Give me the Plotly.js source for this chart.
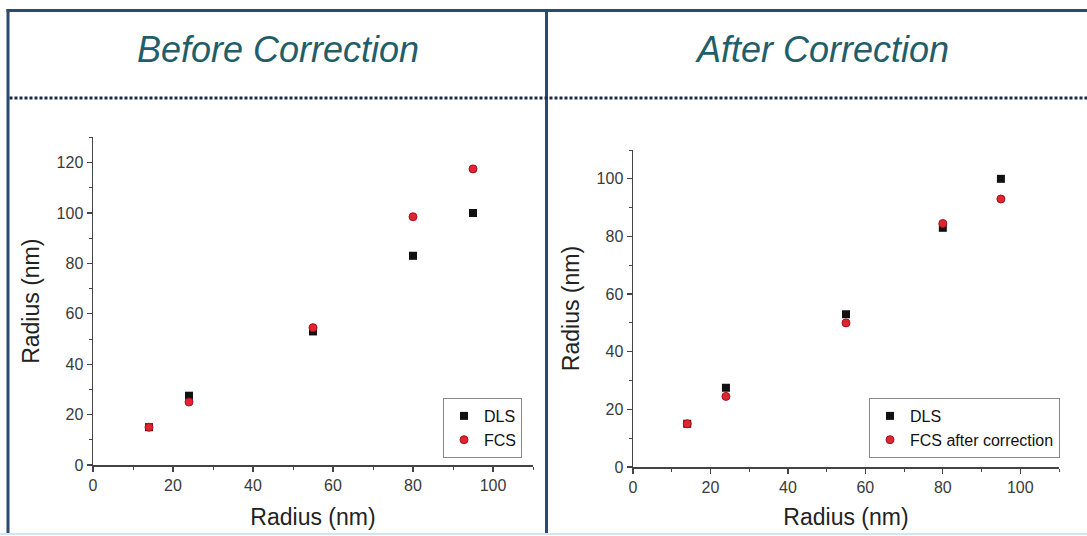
<!DOCTYPE html>
<html>
<head>
<meta charset="utf-8">
<script src="https://cdn.plot.ly/plotly-3.0.1.min.js"></script>
<style>html,body{margin:0;padding:0;background:#fff;}#chart{width:1087px;height:536px;}</style>
</head>
<body>
<div id="chart"></div>
<script>
// Data
const radiusX = [14, 24, 55, 80, 95];
const dlsValues = [15, 27.5, 53, 83, 100];
const fcsBefore = [15, 25, 54.5, 98.5, 117.5];
const fcsAfter = [15, 24.5, 50, 84.5, 93];
const panelTitles = ["Before Correction", "After Correction"];
const seriesNames = ["DLS", "FCS", "FCS after correction"];
const axisLabel = "Radius (nm)";

const W = 1087, H = 536;
const px = v => v / W;
const py = v => (H - v) / H;

const FONT = 'Liberation Sans, Arial, sans-serif';
const sqMarker = {symbol: 'square', size: 8, color: '#111'};
const ciMarker = {symbol: 'circle', size: 8, color: '#e02530', line: {color: '#a8101c', width: 1}};

const traces = [
  {x: radiusX, y: dlsValues, name: seriesNames[0], type: 'scatter', mode: 'markers', marker: sqMarker, xaxis: 'x', yaxis: 'y', legend: 'legend'},
  {x: radiusX, y: fcsBefore, name: seriesNames[1], type: 'scatter', mode: 'markers', marker: ciMarker, xaxis: 'x', yaxis: 'y', legend: 'legend'},
  {x: radiusX, y: dlsValues, name: seriesNames[0], type: 'scatter', mode: 'markers', marker: sqMarker, xaxis: 'x2', yaxis: 'y2', legend: 'legend2'},
  {x: radiusX, y: fcsAfter, name: seriesNames[2], type: 'scatter', mode: 'markers', marker: ciMarker, xaxis: 'x2', yaxis: 'y2', legend: 'legend2'}
];

const tickFont = {family: FONT, size: 16, color: '#3a3a3a'};
const titleFont = {family: FONT, size: 23, color: '#222'};

function axis(extra) {
  return Object.assign({
    showgrid: false, zeroline: false, showline: true, linecolor: '#444', linewidth: 1.5,
    ticks: 'outside', ticklen: 5, tickwidth: 1.2, tickcolor: '#444', dtick: 20, tick0: 0,
    minor: {dtick: 10, ticks: 'outside', ticklen: 3, tickcolor: '#444', tickwidth: 1},
    tickfont: tickFont, fixedrange: true
  }, extra);
}

const legendFont = {family: FONT, size: 16, color: '#111'};

const layout = {
  width: W, height: H,
  margin: {l: 0, r: 0, t: 0, b: 0},
  paper_bgcolor: '#fff', plot_bgcolor: 'rgba(0,0,0,0)',
  showlegend: true,
  xaxis: axis({domain: [px(93), px(533)], range: [0, 110], anchor: 'y',
    title: {text: axisLabel, font: titleFont, standoff: 16}}),
  yaxis: axis({domain: [py(465), py(137.4)], range: [0, 130], anchor: 'x',
    title: {text: axisLabel, font: titleFont, standoff: 10}}),
  xaxis2: axis({domain: [px(633), px(1059)], range: [0, 110], anchor: 'y2',
    title: {text: axisLabel, font: titleFont, standoff: 14}}),
  yaxis2: axis({domain: [py(467), py(150)], range: [0, 110], anchor: 'x2',
    title: {text: axisLabel, font: titleFont, standoff: 10}}),
  legend: {x: px(522), y: py(458), xanchor: 'right', yanchor: 'bottom',
    bordercolor: '#888', borderwidth: 1, bgcolor: '#fff',
    font: legendFont, tracegroupgap: 0, itemwidth: 30},
  legend2: {x: px(1060), y: py(458), xanchor: 'right', yanchor: 'bottom',
    bordercolor: '#888', borderwidth: 1, bgcolor: '#fff',
    font: legendFont, tracegroupgap: 0, itemwidth: 30},
  annotations: [
    {text: panelTitles[0], xref: 'paper', yref: 'paper', x: px(278), y: py(50), xanchor: 'center', yanchor: 'middle', showarrow: false,
      font: {family: FONT, size: 36, color: '#1f5e6a', style: 'italic'}},
    {text: panelTitles[1], xref: 'paper', yref: 'paper', x: px(822), y: py(50), xanchor: 'center', yanchor: 'middle', showarrow: false,
      font: {family: FONT, size: 36, color: '#1f5e6a', style: 'italic'}}
  ],
  shapes: [
    {type: 'line', xref: 'paper', yref: 'paper', x0: px(6.5), x1: 1, y0: py(10.5), y1: py(10.5), line: {color: '#2b4a72', width: 3}},
    {type: 'line', xref: 'paper', yref: 'paper', x0: px(8), x1: px(8), y0: py(9), y1: py(533), line: {color: '#2b4a72', width: 3}},
    {type: 'line', xref: 'paper', yref: 'paper', x0: px(546.5), x1: px(546.5), y0: py(9), y1: py(533), line: {color: '#2b4a72', width: 3}},
    {type: 'line', xref: 'paper', yref: 'paper', x0: px(9.5), x1: 1, y0: py(98), y1: py(98), line: {color: '#1a2a48', width: 3, dash: '3px,2px'}},
    {type: 'line', xref: 'paper', yref: 'paper', x0: 0, x1: 1, y0: py(534), y1: py(534), line: {color: '#cfe6f5', width: 2}}
  ]
};

Plotly.newPlot('chart', traces, layout, {displayModeBar: false, staticPlot: true});
</script>
</body>
</html>
